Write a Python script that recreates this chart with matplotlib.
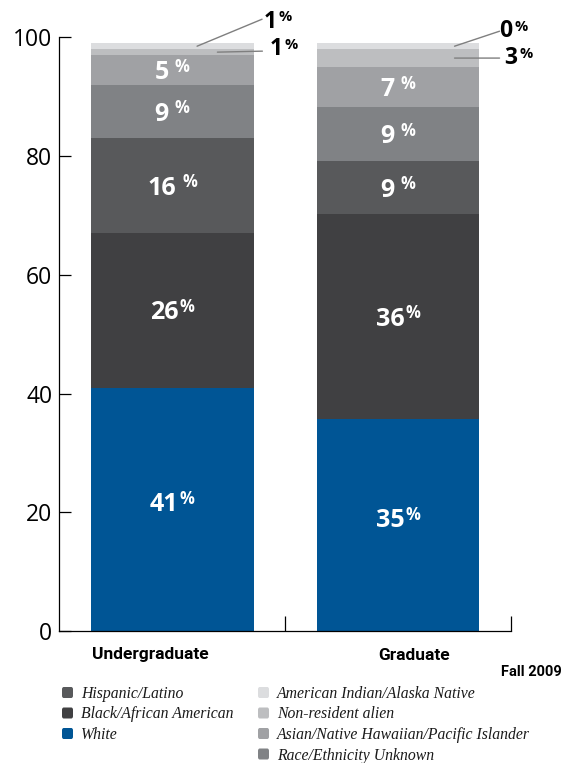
import numpy as np
import matplotlib
matplotlib.use("Agg")
import matplotlib.pyplot as plt
from matplotlib.patches import FancyBboxPatch

W, H, DPI = 571, 763, 100

# ── data (bottom segment first) ─────────────────────────────────
levels = ["Undergraduate", "Graduate"]
groups = ["White", "Black/African American", "Hispanic/Latino",
          "Race/Ethnicity Unknown", "Asian/Native Hawaiian/Pacific Islander",
          "Non-resident alien", "American Indian/Alaska Native"]
undergrad = [41.0, 26.0, 16.0, 9.0, 5.0, 1.0, 1.0]
graduate = [35.7, 34.5, 9.0, 9.0, 6.8, 3.0, 1.0]
undergrad_labels = ["41%", "26%", "16 %", "9 %", "5 %", "1%", "1%"]
graduate_labels = ["35%", "36%", "9 %", "9 %", "7 %", "3%", "0%"]
colors = ["#005595", "#404042", "#58595b", "#808285", "#a0a1a4", "#bdbec0", "#dcdddf"]

legend_col1 = ["Hispanic/Latino", "Black/African American", "White"]
legend_col2 = ["American Indian/Alaska Native", "Non-resident alien",
               "Asian/Native Hawaiian/Pacific Islander", "Race/Ethnicity Unknown"]
yticks = [0, 20, 40, 60, 80, 100]
note = "Fall 2009"

SANS = ["Open Sans", "DejaVu Sans"]
SERIF = ["Liberation Serif", "DejaVu Serif"]

fig = plt.figure(figsize=(W / DPI, H / DPI), dpi=DPI)
fx = lambda px: px / W
fy = lambda py: 1 - py / H

ax = fig.add_axes([fx(59.3), fy(631), fx(511) - fx(59.3), fy(37.3) - fy(631)])
ax.set_xlim(0, 2)
ax.set_ylim(0, 100)

values = [undergrad, graduate]
labels = [undergrad_labels, graduate_labels]
centers = [0.5, 1.5]
bw = 0.72
for xc, vals in zip(centers, values):
    bottom = 0.0
    for v, c in zip(vals, colors):
        ax.bar(xc, v, bw, bottom=bottom, color=c, linewidth=0)
        bottom += v

for s in ["top", "right"]:
    ax.spines[s].set_visible(False)
for s in ["left", "bottom"]:
    ax.spines[s].set_linewidth(0.9)
ax.set_yticks(yticks)
ax.set_yticklabels([str(t) for t in yticks], family=SANS, fontsize=16.5)
ax.tick_params(axis="y", direction="in", length=8.5, width=0.9, pad=5)
ax.set_xticks([1, 2])
ax.set_xticklabels([])
ax.tick_params(axis="x", direction="in", length=11, width=0.9)

renderer = fig.canvas.get_renderer()


def text_width(s, **kw):
    t = fig.text(0, 0, s, **kw)
    w = t.get_window_extent(renderer).width
    t.remove()
    return w


def pct_label(xy, lab, dx, base, color, fs_num, fs_pct, rise):
    num = lab.replace("%", "").strip()
    gap = 6 if lab.replace("%", "").endswith(" ") else 1.5
    kn = dict(fontsize=fs_num, weight="bold", family=SANS, color=color)
    kp = dict(fontsize=fs_pct, weight="bold", family=SANS, color=color)
    wn = text_width(num, **kn)
    wp = text_width("%", **kp)
    if dx is None:
        dx = -(wn + gap + wp) / 2
    ax.annotate(num, xy, xytext=(dx, base), textcoords="offset pixels",
                ha="left", va="baseline", annotation_clip=False, **kn)
    ax.annotate("%", xy, xytext=(dx + wn + gap, base + rise), textcoords="offset pixels",
                ha="left", va="baseline", annotation_clip=False, **kp)


# inside labels (five lower segments); the bottom one sits a little high
for xc, vals, labs in zip(centers, values, labels):
    cum = np.concatenate([[0], np.cumsum(vals)])
    for i in range(5):
        yc = (cum[i] + cum[i + 1]) / 2
        lift = 7 if i == 0 else 0
        pct_label((xc, yc), labs[i], None, -9 + lift, "white", 18, 12, 7.3)

# outside labels with leader lines: (bar, segment, anchor dx, line end px, text offset px)
callouts = [
    (0, 6, 0.11, (65, 27), (2, -8.5)),
    (0, 5, 0.20, (45, 1), (7, -4)),
    (1, 6, 0.25, (45, 15), (0, -6)),
    (1, 5, 0.25, (45, 0), (5, -6)),
]
for b, seg, adx, (lx, ly), (tx, ty) in callouts:
    cum = np.concatenate([[0], np.cumsum(values[b])])
    yc = (cum[seg] + cum[seg + 1]) / 2
    xy = (centers[b] + adx, yc)
    ax.annotate("", xy, xytext=(lx, ly), textcoords="offset pixels",
                arrowprops=dict(arrowstyle="-", color="#7f7f7f", lw=1.0,
                                shrinkA=0, shrinkB=0), annotation_clip=False)
    pct_label(xy, labels[b][seg], lx + tx, ly + ty, "black", 16.5, 10.5, 6.5)

# category names and note
cat_x = [fx(150), fx(414)]
for x, name in zip(cat_x, levels):
    fig.text(x, fy(655), name, ha="center", va="center", fontsize=12.5,
             weight="bold", family=["Roboto", "DejaVu Sans"])
fig.text(fx(562), fy(672), note, ha="right", va="center", fontsize=10.5,
         weight="bold", family=["Roboto", "DejaVu Sans"])

# legend (two hand-placed columns)
col_of = dict(zip(groups, colors))
rows_y = [692.5, 713.0, 733.5, 754.0]
for x0, names in [(62, legend_col1), (258, legend_col2)]:
    for py, name in zip(rows_y, names):
        sq = FancyBboxPatch((fx(x0), fy(py + 5.5)), fx(11), fy(0) - fy(11),
                            boxstyle="round,pad=0,rounding_size=0.003",
                            transform=fig.transFigure, facecolor=col_of[name],
                            edgecolor="none")
        fig.add_artist(sq)
        fig.text(fx(x0 + 19), fy(py + 5.5), name, ha="left", va="baseline",
                 fontsize=11.3, style="italic", family=SERIF, color="#1a1a1a")

fig.savefig("out.png", dpi=DPI)
